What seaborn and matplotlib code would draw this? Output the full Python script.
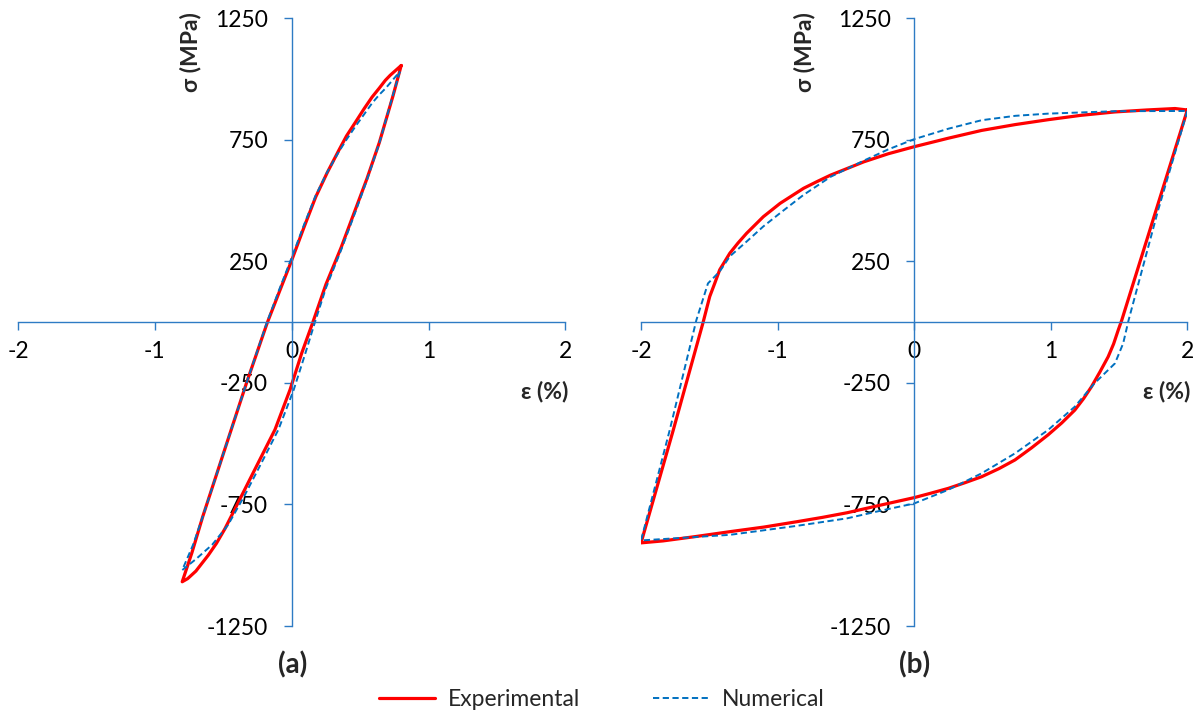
import numpy as np
import pandas as pd
import matplotlib
matplotlib.use("Agg")
import matplotlib.pyplot as plt
import seaborn as sns

# panel (a): strain amplitude 0.8 %
a_exp_eps = [0.80, 0.74, 0.64, 0.55, 0.47, 0.36, 0.25, 0.155, 0.073, -0.012, -0.122, -0.244,
             -0.366, -0.488, -0.55, -0.61, -0.66, -0.70, -0.76, -0.80,
             -0.73, -0.65, -0.49, -0.33, -0.18, -0.09, 0.0, 0.09, 0.175, 0.26, 0.344, 0.40,
             0.466, 0.53, 0.587, 0.64, 0.684, 0.72, 0.75, 0.80]
a_exp_sig = [1055, 930, 738, 590, 470, 305, 155, 0, -128, -278, -442, -578,
             -714, -850, -910, -959, -995, -1024, -1055, -1068,
             -950, -800, -525, -250, -5, 125, 254, 390, 514, 615, 706, 765,
             822, 878, 925, 962, 994, 1015, 1030, 1055]
a_num_eps = [0.79, 0.73, 0.64, 0.55, 0.47, 0.36, 0.25, 0.17, 0.10, 0.015, -0.097, -0.22,
             -0.345, -0.466, -0.58, -0.70, -0.80,
             -0.72, -0.65, -0.49, -0.33, -0.18, -0.09, 0.0, 0.09, 0.175, 0.26, 0.344, 0.40,
             0.466, 0.53, 0.587, 0.64, 0.684, 0.73, 0.79]
a_num_sig = [1030, 915, 735, 585, 460, 295, 140, 0, -128, -278, -442, -578,
             -714, -835, -915, -975, -1020,
             -915, -800, -525, -250, 0, 135, 265, 400, 520, 617, 700, 750,
             805, 855, 900, 935, 960, 990, 1030]

# panel (b): strain amplitude 2 %
b_exp_eps = [2.0, 1.875, 1.75, 1.625, 1.52, 1.494, 1.46, 1.42, 1.36, 1.298, 1.24, 1.176,
             1.08, 0.98, 0.86, 0.738, 0.62, 0.494, 0.37, 0.249, 0.12, 0.0, -0.24, -0.49,
             -0.67, -0.859, -1.1, -1.35, -1.6, -1.84, -2.0,
             -1.767, -1.545, -1.52, -1.497, -1.46, -1.424, -1.35, -1.29, -1.227, -1.105,
             -1.04, -0.982, -0.81, -0.71, -0.613, -0.368, -0.19, 0.0, 0.25, 0.494, 0.74,
             0.98, 1.22, 1.47, 1.70, 1.91, 2.0]
b_exp_sig = [872, 647, 422, 197, 8, -33, -90, -143, -205, -266, -315, -362,
             -415, -464, -517, -567, -603, -636, -661, -684, -704, -722, -752, -784,
             -803, -821, -843, -862, -882, -900, -908,
             -450, 0, 55, 105, 160, 215, 283, 325, 365, 433,
             462, 488, 550, 578, 604, 659, 692, 721, 756, 788, 812,
             832, 850, 864, 872, 878, 872]
b_num_eps = [2.0, 1.786, 1.57, 1.53, 1.47, 1.32, 1.176, 0.98, 0.738, 0.494, 0.249, 0.0,
             -0.24, -0.49, -0.859, -1.35, -2.0,
             -1.79, -1.595, -1.51, -1.424, -1.35, -1.227, -1.105, -0.982, -0.81, -0.613,
             -0.368, -0.19, 0.0, 0.25, 0.494, 0.74, 0.98, 1.47, 2.0]
b_num_sig = [868, 460, 8, -88, -170, -252, -348, -444, -540, -622, -690, -746,
             -775, -807, -838, -875, -898,
             -444, 8, 159, 208, 270, 331, 393, 448, 523, 597,
             664, 710, 752, 795, 830, 848, 857, 867, 868]

x_ticks = [-2, -1, 0, 1, 2]
y_ticks = [-1250, -750, -250, 250, 750, 1250]
panel_names = ["(a)", "(b)"]

sns.set_theme(style="white")
plt.rcParams["font.family"] = ["Lato", "DejaVu Sans"]

axis_blue = "#2e7bc4"
red = "#ff0000"
num_blue = "#0070c0"

fig = plt.figure(figsize=(11.98, 7.14), dpi=100)
ax_a = fig.add_axes([0.0150, 0.1232, 0.4570, 0.8515])
ax_b = fig.add_axes([0.5351, 0.1232, 0.4560, 0.8515])

panels = [
    (ax_a, a_exp_eps, a_exp_sig, a_num_eps, a_num_sig),
    (ax_b, b_exp_eps, b_exp_sig, b_num_eps, b_num_sig),
]

for i, (ax, ee, es, ne, ns) in enumerate(panels):
    sns.lineplot(x=ee, y=es, sort=False, estimator=None, ax=ax, color=red,
                 linewidth=2.3, label="Experimental", legend=False)
    sns.lineplot(x=ne, y=ns, sort=False, estimator=None, ax=ax, color=num_blue,
                 linewidth=1.4, linestyle=(0, (3.2, 1.8)), label="Numerical", legend=False)

    ax.set_xlim(-2, 2)
    ax.set_ylim(-1250, 1250)
    ax.set_xticks(x_ticks)
    ax.set_yticks(y_ticks)
    ax.set_xticklabels([str(t) for t in x_ticks])
    ax.set_yticklabels([str(t) for t in y_ticks])

    for side in ["top", "right"]:
        ax.spines[side].set_visible(False)
    ax.spines["left"].set_position(("data", 0))
    ax.spines["bottom"].set_position(("data", 0))
    for side in ["left", "bottom"]:
        ax.spines[side].set_color(axis_blue)
        ax.spines[side].set_linewidth(1.0)
    ax.patch.set_alpha(0)

    ax.tick_params(axis="both", direction="out", length=6, width=1.0, colors=axis_blue,
                   labelcolor="black", labelsize=16.5, bottom=True, left=True)
    ax.tick_params(axis="y", pad=11)
    ax.tick_params(axis="x", pad=8)
    ax.set_xlabel("")
    ax.set_ylabel("")

    lx = 0.315 if i == 0 else 0.2996
    ax.text(lx, 0.944, "σ (MPa)", transform=ax.transAxes, rotation=90, ha="center",
            va="center", fontsize=16.5, fontweight="bold")
    ax.text(0.962, 0.386, "ε (%)", transform=ax.transAxes, ha="center", va="center",
            fontsize=16.5, fontweight="bold")
    ax.text(0.501, -0.064, panel_names[i], transform=ax.transAxes, ha="center",
            va="center", fontsize=20, fontweight="bold")

handles, labels = ax_a.get_legend_handles_labels()
fig.legend(handles, labels, loc="center", bbox_to_anchor=(0.5025, 0.02), ncol=2,
           frameon=False, fontsize=16.5, handlelength=2.45, handletextpad=0.55,
           columnspacing=3.2)

fig.savefig("out.png", dpi=100)
